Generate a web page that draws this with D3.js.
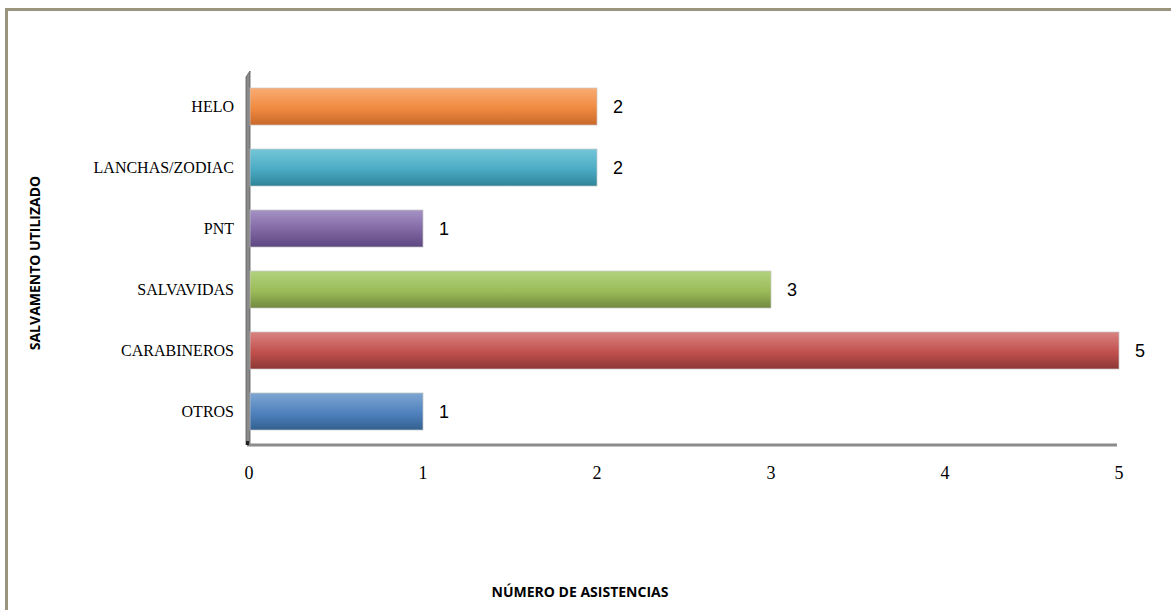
<!DOCTYPE html>
<html><head><meta charset="utf-8">
<script src="https://cdn.jsdelivr.net/npm/d3@7"></script>
<style>body{margin:0;background:#fff}svg{display:block}</style>
</head><body>
<script>
const categories = ["HELO","LANCHAS/ZODIAC","PNT","SALVAVIDAS","CARABINEROS","OTROS"];
const values = [2,2,1,3,5,1];
const tickValues = [0,1,2,3,4,5];
const colorsTop = ["#f9ac74","#74c6d8","#a593c4","#b3d27f","#d98482","#7ea6d2"];
const colorsMid = ["#f08a40","#4babc4","#8066a3","#9bbb59","#c0504d","#4f81bd"];
const colorsBot = ["#c8682a","#2e8498","#5d4880","#71893f","#8c3836","#32608f"];
const xTitle = "NÚMERO DE ASISTENCIAS";
const yTitle = "SALVAMENTO UTILIZADO";

const W = 1171, H = 610;
const svg = d3.select("body").append("svg").attr("width", W).attr("height", H);
const defs = svg.append("defs");
categories.forEach((c,i)=>{
  const g = defs.append("linearGradient").attr("id","g"+i).attr("x1",0).attr("y1",0).attr("x2",0).attr("y2",1);
  g.append("stop").attr("offset","0%").attr("stop-color",colorsTop[i]);
  g.append("stop").attr("offset","55%").attr("stop-color",colorsMid[i]);
  g.append("stop").attr("offset","100%").attr("stop-color",colorsBot[i]);
});

// frame
svg.append("path").attr("d","M6.5,"+H+" V9.5 H"+W).attr("fill","none").attr("stroke","#9b9580").attr("stroke-width",3);

const pLeft = 249, pRight = 1119, pTop = 73, pBottom = 445;
const x = d3.scaleLinear().domain([0,5]).range([pLeft,pRight]);
const y = d3.scaleBand().domain(categories).range([pTop,pBottom]).paddingInner(0.393).paddingOuter(0.246);

// axis walls
svg.append("path").attr("d",`M${pLeft-3},${pBottom} V${pTop+4} L${pLeft+1},${pTop-2} V${pBottom}`)
  .attr("fill","#8a8a8a").attr("stroke","#555").attr("stroke-width",0.8);
svg.append("line").attr("x1",pLeft-2).attr("x2",pRight-2).attr("y1",pBottom).attr("y2",pBottom)
  .attr("stroke","#8c8c8c").attr("stroke-width",3);
svg.append("rect").attr("x",pLeft-3).attr("y",pBottom-4).attr("width",3).attr("height",4).attr("fill","#222");

// bars
svg.selectAll("rect.bar").data(categories).join("rect").attr("class","bar")
  .attr("x",x(0)+1).attr("y",d=>y(d)).attr("height",y.bandwidth())
  .attr("width",(d,i)=>x(values[i])-x(0)-1)
  .attr("fill",(d,i)=>`url(#g${i})`).attr("stroke","rgba(200,200,200,0.7)").attr("stroke-width",1);

// value labels
svg.selectAll("text.val").data(categories).join("text").attr("class","val")
  .attr("x",(d,i)=>x(values[i])+16).attr("y",d=>y(d)+y.bandwidth()/2+6.5)
  .attr("font-family","Liberation Sans, Arial, sans-serif").attr("font-size",18).attr("fill","#000")
  .text((d,i)=>values[i]);

// category labels
svg.selectAll("text.cat").data(categories).join("text").attr("class","cat")
  .attr("x",pLeft-15).attr("y",d=>y(d)+y.bandwidth()/2+5.5)
  .attr("text-anchor","end").attr("font-family","Liberation Serif, Times New Roman, serif").attr("font-size",16)
  .text(d=>d);

// x ticks
svg.selectAll("text.tick").data(tickValues).join("text").attr("class","tick")
  .attr("x",d=>x(d)).attr("y",479).attr("text-anchor","middle")
  .attr("font-family","Liberation Serif, Times New Roman, serif").attr("font-size",18)
  .text(d=>d);

// titles
svg.append("text").attr("x",580).attr("y",597).attr("text-anchor","middle")
  .attr("font-family","Open Sans, sans-serif").attr("font-weight","bold").attr("font-size",14).text(xTitle);
svg.append("text").attr("transform","translate(40,263) rotate(-90)").attr("text-anchor","middle")
  .attr("font-family","Open Sans, sans-serif").attr("font-weight","bold").attr("font-size",14).text(yTitle);
</script>
</body></html>
